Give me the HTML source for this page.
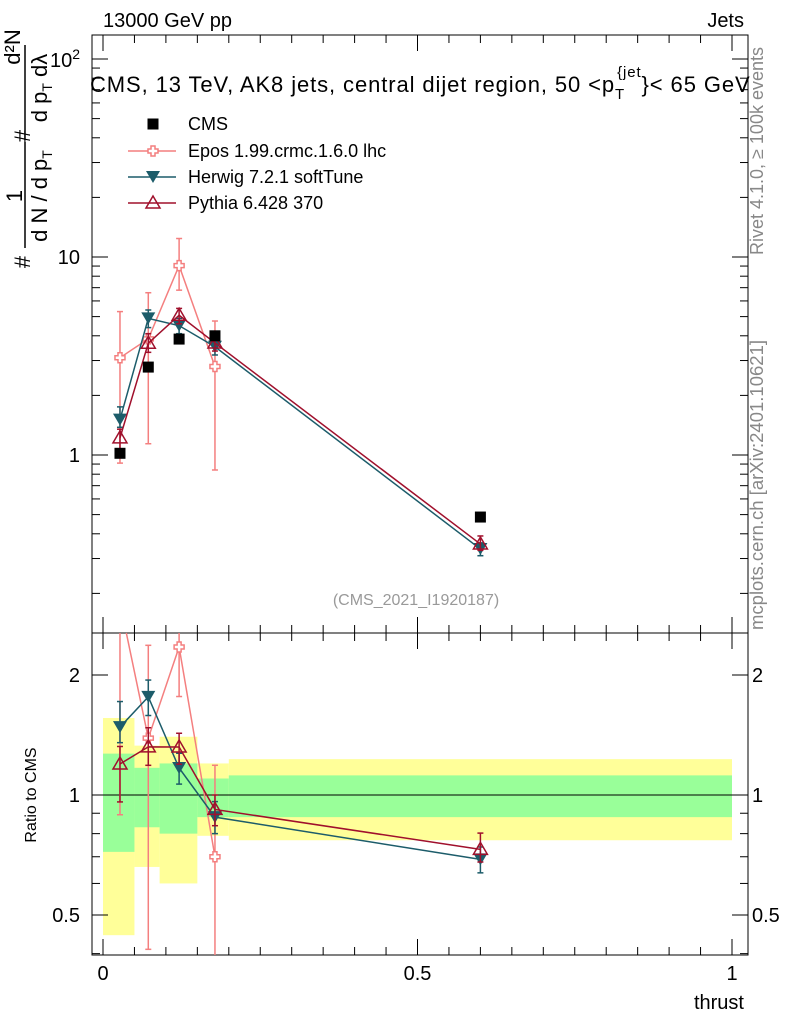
<!DOCTYPE html>
<html><head><meta charset="utf-8"><style>
body{margin:0;background:#fff}
svg text{font-family:"Liberation Sans",sans-serif}
</style></head><body>
<svg id="c" width="786" height="1024" xmlns="http://www.w3.org/2000/svg"></svg>
<script>
const xs=[0.027,0.072,0.121,0.178,0.6];
const edges=[0,0.05,0.09,0.15,0.2,1.0];
const cms=[1.02,2.78,3.85,4.0,0.486];
const epos=[3.1,3.86,9.05,2.8];
const eposUp=[5.3,6.6,12.4,4.75];
const eposDn=[0.91,1.14,6.8,0.84];
const herwig=[1.51,4.9,4.5,3.52,0.335];
const herwigUp=[1.75,5.4,4.9,3.85,0.36];
const herwigDn=[1.38,4.4,4.1,3.2,0.31];
const pythia=[1.22,3.67,5.08,3.68,0.355];
const pythiaUp=[1.35,4.1,5.5,4.0,0.39];
const pythiaDn=[0.98,3.3,4.6,3.35,0.33];
const yelLo=[0.445,0.66,0.60,0.79,0.77];
const yelHi=[1.56,1.33,1.40,1.20,1.23];
const grnLo=[0.72,0.83,0.80,0.88,0.88];
const grnHi=[1.27,1.17,1.20,1.10,1.12];
const svg=document.getElementById('c');const NS='http://www.w3.org/2000/svg';
function el(t,a,p){const e=document.createElementNS(NS,t);for(const k in a)e.setAttribute(k,a[k]);(p||svg).appendChild(e);return e;}
const X=v=>103+629*v;
const Y=v=>455-198*Math.log10(v);
const R=v=>795-120*Math.log2(v);
const L=92,Rt=748,T=35,M=633,B=955;
const bands=el('g',{});
for(let i=0;i<cms.length;i++){
 const r=el('rect',{x:X(edges[i]),width:X(edges[i+1])-X(edges[i]),y:R(yelHi[i]),height:R(yelLo[i])-R(yelHi[i]),fill:'#ffff99'},bands);
 
}
for(let i=0;i<cms.length;i++){
 const g=el('rect',{x:X(edges[i]),width:X(edges[i+1])-X(edges[i]),y:R(grnHi[i]),height:R(grnLo[i])-R(grnHi[i]),fill:'#99ff99'},bands);
 
}
el('line',{x1:L,x2:Rt,y1:R(1),y2:R(1),stroke:'#000'});
const f1=el('rect',{x:L,y:T,width:Rt-L,height:M-T,fill:'none',stroke:'#000'});
const f2=el('rect',{x:L,y:M,width:Rt-L,height:B-M,fill:'none',stroke:'#000'});
function txt(s,x,y,o){const t=el('text',Object.assign({x:x,y:y,'font-size':20},o||{}));t.textContent=s;return t;}
for(let d=-1;d<=2;d++)for(let m=1;m<10;m++){const v=m*Math.pow(10,d);const y=Y(v);if(y<T||y>M)continue;const len=m==1?16:8;
 el('line',{x1:L,x2:L+len,y1:y,y2:y,stroke:'#000'});el('line',{x1:Rt-len,x2:Rt,y1:y,y2:y,stroke:'#000'});}
let t;
t=txt('1',80,462,{'text-anchor':'end'});
t=txt('10',80,264,{'text-anchor':'end'});
t=el('text',{x:80,y:67,'font-size':20,'text-anchor':'end'});t.innerHTML='10<tspan dy="-8" font-size="14">2</tspan>';
[0.4,0.5,0.6,0.7,0.8,0.9,1,2].forEach(v=>{const y=R(v);const len=(v==0.5||v==1||v==2)?16:8;el('line',{x1:L,x2:L+len,y1:y,y2:y,stroke:'#000'});el('line',{x1:Rt-len,x2:Rt,y1:y,y2:y,stroke:'#000'});});
[[0.5,'0.5'],[1,'1'],[2,'2']].forEach(p=>{t=txt(p[1],80,R(p[0])+7,{'text-anchor':'end'});
 t=txt(p[1],752,R(p[0])+7);});
for(let i=0;i<=20;i++){const v=i*0.05;const x=X(v);const len=i%10==0?16:8;
 el('line',{x1:x,x2:x,y1:B,y2:B-len,stroke:'#000'});el('line',{x1:x,x2:x,y1:M,y2:M-len,stroke:'#000'});el('line',{x1:x,x2:x,y1:T,y2:T+len,stroke:'#000'});el('line',{x1:x,x2:x,y1:M,y2:M+len,stroke:'#000'});}
[[0,'0'],[0.5,'0.5'],[1,'1']].forEach(p=>{t=txt(p[1],X(p[0]),980,{'text-anchor':'middle'});});
t=txt('thrust',744,1009,{'text-anchor':'end'});
t=txt('13000 GeV pp',103,27);
t=txt('Jets',744,27,{'text-anchor':'end'});
t=el('text',{x:90,y:92,'font-size':22,'letter-spacing':0.9});t.innerHTML='CMS, 13 TeV, AK8 jets, central dijet region, 50 &lt;p<tspan dy="7" font-size="15">T</tspan><tspan dy="-22" dx="-8" font-size="15">{jet</tspan><tspan dy="15">}&lt; 65 GeV</tspan>';
t=txt('(CMS_2021_I1920187)',416,605,{'text-anchor':'middle','font-size':16,fill:'#999'});
t=txt('Ratio to CMS',36,795,{'text-anchor':'middle','font-size':16,transform:'rotate(-90 36 795)'});
const yt=el('g',{transform:'rotate(-90)'});
function rt(s,sy,sx,fs,anchor){const e=el('text',{x:-sy,y:sx,'font-size':fs,'text-anchor':anchor||'middle'},yt);e.innerHTML=s;return e;}
rt('#',262,30,22);
rt('1',196,22,22);
el('line',{x1:-248,x2:-142,y1:25,y2:25,stroke:'#000','stroke-width':1.5},yt);
rt('d N / d p<tspan font-size="14" dy="5">T</tspan>',196,47,22);
rt('#',136,30,22);
rt('d²N',47,20,22);
el('line',{x1:-140,x2:-45,y1:25,y2:25,stroke:'#000','stroke-width':1.5},yt);
rt('d p<tspan font-size="14" dy="5">T</tspan><tspan dy="-5"> d</tspan>λ',88,47,22);
t=txt('Rivet 4.1.0, ≥ 100k events',763,255,{'font-size':18,fill:'#888',transform:'rotate(-90 763 255)'});
t=txt('mcplots.cern.ch [arXiv:2401.10621]',763,630,{'font-size':18.5,fill:'#888',transform:'rotate(-90 763 630)'});
function marker(kind,x,y,c,g){
 if(kind=='sq')return el('rect',{x:x-5.5,y:y-5.5,width:11,height:11,fill:'#000'},g);
 if(kind=='cross')return el('path',{d:`M${x-2},${y-5}h4v3h3v4h-3v3h-4v-3h-3v-4h3z`,fill:'#fff',stroke:c,'stroke-width':1.5},g);
 if(kind=='down')return el('path',{d:`M${x-7},${y-6}L${x+7},${y-6}L${x},${y+6}z`,fill:c},g);
 if(kind=='up')return el('path',{d:`M${x},${y-7}L${x+7},${y+5}L${x-7},${y+5}z`,fill:'none',stroke:c,'stroke-width':1.5},g);
}
function clipY(y,lo,hi){return Math.max(lo,Math.min(hi,y));}
function series(name,vals,up,dn,c,kind){
 const gm=el('g',{});
 const gr=el('g',{});
 let pm='',pr='';
 vals.forEach((v,i)=>{const x=X(xs[i]);
  pm+=(i?'L':'M')+x+','+Y(v);
  let ry=R(v/cms[i]);
  if(i==0&&ry<M&&vals.length>1){const x2=X(xs[1]),y2=R(vals[1]/cms[1]);const f=(M-ry)/(y2-ry);pr+='M'+(x+(x2-x)*f)+','+M;}
  else pr+=(pr?'L':'M')+x+','+clipY(ry,M,B);
  el('line',{x1:x,x2:x,y1:clipY(Y(up[i]),T,M),y2:clipY(Y(dn[i]),T,M),stroke:c,'stroke-width':1.5},gm);
  el('line',{x1:x-3,x2:x+3,y1:Y(up[i]),y2:Y(up[i]),stroke:c,'stroke-width':1.5},gm);
  el('line',{x1:x-3,x2:x+3,y1:Y(dn[i]),y2:Y(dn[i]),stroke:c,'stroke-width':1.5},gm);
  const ru=clipY(R(up[i]/cms[i]),M,B),rd=clipY(R(dn[i]/cms[i]),M,B);
  el('line',{x1:x,x2:x,y1:ru,y2:rd,stroke:c,'stroke-width':1.5},gr);
  if(ru>M){el('line',{x1:x-3,x2:x+3,y1:ru,y2:ru,stroke:c,'stroke-width':1.5},gr);}
  if(rd<B){el('line',{x1:x-3,x2:x+3,y1:rd,y2:rd,stroke:c,'stroke-width':1.5},gr);}
 });
 el('path',{d:pm,fill:'none',stroke:c,'stroke-width':1.5},gm);
 el('path',{d:pr,fill:'none',stroke:c,'stroke-width':1.5},gr);
 vals.forEach((v,i)=>{const x=X(xs[i]);const p=marker(kind,x,Y(v),c,gm);
  const ry=R(v/cms[i]);if(ry>M&&ry<B){const q=marker(kind,x,ry,c,gr);}});
}
series('epos',epos,eposUp,eposDn,'#f47f7f','cross');
series('herwig',herwig,herwigUp,herwigDn,'#1c5c6a','down');
series('pythia',pythia,pythiaUp,pythiaDn,'#a0102c','up');
const gc=el('g',{});
cms.forEach((v,i)=>{const p=marker('sq',X(xs[i]),Y(v),'#000',gc);});
const lg=el('g',{});
const ent=[['CMS','#000','sq',124],['Epos 1.99.crmc.1.6.0 lhc','#f47f7f','cross',151],['Herwig 7.2.1 softTune','#1c5c6a','down',177],['Pythia 6.428 370','#a0102c','up',203]];
ent.forEach(e=>{const g=el('g',{},lg);
 if(e[2]!='sq')el('line',{x1:128,x2:176,y1:e[3],y2:e[3],stroke:e[1],'stroke-width':1.5},g);
 marker(e[2],153,e[3],e[1],g);
 const tt=el('text',{x:188,y:e[3]+6,'font-size':18},g);tt.textContent=e[0];});
</script>
</body></html>
